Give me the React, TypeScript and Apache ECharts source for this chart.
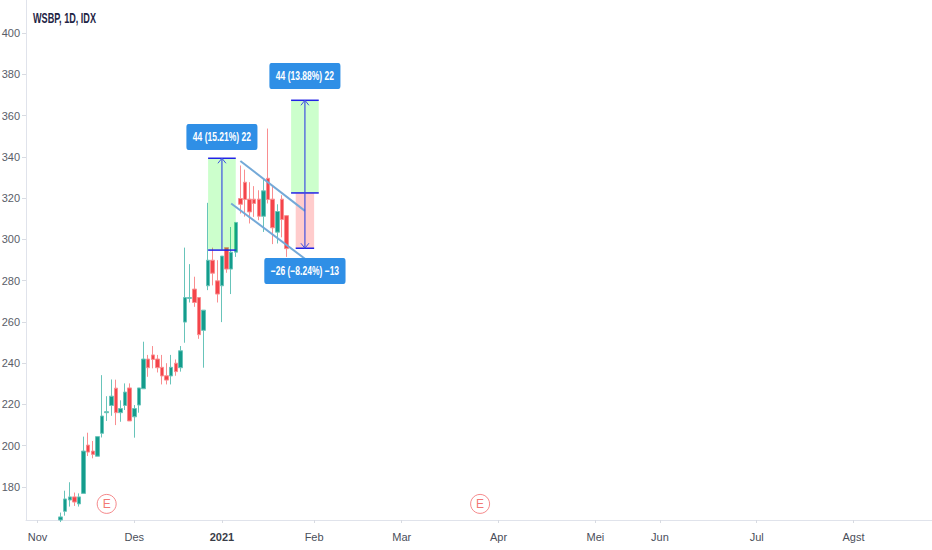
import React, { useEffect, useRef } from "react";
import * as echarts from "echarts";

const FONT = '"Liberation Sans", sans-serif';

// first drawn bar index; all arrays below run on from this bar
const firstBar = 7;
const barCount = 197;
const opens = [164, 168.2, 173.7, 175.2, 171.8, 176.9, 200.3, 197.4, 194.9, 206, 216, 219.5, 227.9, 216, 219.5, 228, 214, 219.7, 227.6, 242, 244, 242, 238, 233.9, 233.8, 240, 237.8, 259.9, 271.4, 275.9, 271.8, 255.9, 277.5, 289.9, 279.9, 277.5, 296, 285.6, 293.8, 319.8, 327.7, 319.5, 319.5, 319.5, 311.2, 329.6, 319.5, 303.5, 319.5, 311.5];
const closes = [165.5, 174.2, 175.2, 172.7, 175.2, 197.4, 196.9, 195.8, 204.4, 214.4, 216.5, 224, 216, 218, 226, 212, 218, 228, 242, 237.8, 241.8, 237.8, 233.8, 231.8, 238, 235.9, 246, 271.8, 271.8, 269.4, 253.8, 265.7, 289.9, 283.6, 273.5, 291.9, 285.6, 293.8, 308.2, 317, 319.3, 313.3, 317.4, 311.2, 323.5, 319.3, 305.6, 313.5, 309.6, 295.5];
const lows = [163, 166.1, 170.5, 170.8, 170.5, 176.9, 195, 193.9, 194.9, 204, 212, 214.5, 210, 211.6, 217.3, 212, 203.9, 216, 227.6, 233.4, 237.5, 235.5, 229.7, 229.7, 229.7, 233.9, 235.9, 249.9, 269.4, 267.3, 251.8, 237.8, 275.4, 277.7, 269.4, 259.9, 283.8, 273.5, 291.5, 312.5, 311, 307.7, 310.9, 309.3, 303.6, 317.4, 297.7, 298, 301, 291.5];
const highs = [167.6, 178.2, 182.3, 177.3, 176.9, 204.4, 206.3, 202.3, 204.4, 234.2, 224, 232.1, 232, 222, 230.2, 230.2, 219.7, 228, 250.4, 244, 248.3, 244, 244, 240, 244, 241.8, 248.3, 296, 288, 281.9, 271.8, 265.7, 317.7, 296, 289.9, 291.9, 296, 306, 308.2, 335.8, 333.8, 327.7, 325.8, 323.8, 329.5, 353.7, 325.8, 317, 321.4, 311.7];

const monthBars = [2, 23, 42, 62, 81, 102, 123, 137, 158, 179];
const monthLabels = ["Nov", "Des", "2021", "Feb", "Mar", "Apr", "Mei", "Jun", "Jul", "Agst"];
const priceTicks = [180, 200, 220, 240, 260, 280, 300, 320, 340, 360, 380, 400];

// [from bar, to bar, low price, high price, kind]
const rangeBoxes: [number, number, number, number, string][] = [
  [39, 45, 294.8, 339.3, "up"],
  [57, 63, 322.5, 367.4, "up"],
  [58, 62, 295.7, 322.5, "down"],
];
// [bar, from price, to price]
const arrows = [
  [42, 294.8, 339.3],
  [60, 322.5, 367.4],
  [60, 322.5, 295.7],
];
// [from bar, to bar, price]
const rangeEdges = [
  [39, 45, 294.8],
  [39, 45, 339.3],
  [57, 63, 322.5],
  [57, 63, 367.4],
  [58, 62, 295.7],
];
// [bar a, price a, bar b, price b]
const channelLines = [
  [46, 338, 60, 313.8],
  [44, 317.4, 60, 290.6],
];
// [bar, price, text]
const rangeLabels: [number, number, string][] = [
  [42, 349.6, "44 (15.21%) 22"],
  [60, 379.2, "44 (13.88%) 22"],
  [60, 284.7, "\u221226 (\u22128.24%) \u221213"],
];
const earningsBars = [17, 98];
const earningsPrice = 171.8;

const categories = Array.from({ length: barCount }, (_, i) => {
  const m = monthBars.indexOf(i);
  return m >= 0 ? monthLabels[m] : "b" + i;
});
const candleRows = categories.map((_, i) => {
  const k = i - firstBar;
  return k >= 0 && k < opens.length ? [opens[k], closes[k], lows[k], highs[k]] : ["-", "-", "-", "-"];
});
const earningsRows = categories.map((_, i) => (earningsBars.includes(i) ? earningsPrice : "-"));

const BLUE = "#2323e6";
const SHAFT = "#3f51e0";

export default function App() {
  const ref = useRef<HTMLDivElement>(null);
  useEffect(() => {
    const chart = echarts.init(ref.current!, undefined, { renderer: "svg" });
    const isMonth = (i: number) => monthBars.includes(i);
    chart.setOption({
      animation: false,
      backgroundColor: "#ffffff",
      graphic: [
        {
          type: "text",
          x: 33,
          y: 11,
          scaleX: 0.65,
          style: { text: "WSBP, 1D, IDX", font: `bold 14px ${FONT}`, fill: "#1f2545" },
        },
      ],
      grid: { left: 26, top: 0, width: 908.2, height: 520, containLabel: false, outerBoundsMode: "none" },
      xAxis: {
        type: "category",
        data: categories,
        boundaryGap: true,
        axisLine: { lineStyle: { color: "#e0e3eb", width: 1 } },
        axisTick: { show: true, length: 3, alignWithLabel: true, interval: (i: number) => isMonth(i), lineStyle: { color: "#d8dbe2" } },
        axisLabel: {
          interval: (i: number) => isMonth(i),
          margin: 11,
          fontFamily: FONT,
          fontSize: 11,
          color: "#4a4e5a",
          hideOverlap: false,
          formatter: (v: string) => (v === "2021" ? "{y|2021}" : v),
          rich: { y: { fontFamily: FONT, fontSize: 11, fontWeight: "bold", color: "#3a3d48" } },
        },
        splitLine: { show: false },
      },
      yAxis: {
        type: "value",
        min: 164,
        max: 416,
        scale: true,
        axisLine: { show: true, lineStyle: { color: "#e0e3eb", width: 1 } },
        axisTick: { show: true, length: 4, customValues: priceTicks, lineStyle: { color: "#d8dbe2" } },
        axisLabel: { customValues: priceTicks, margin: 6, fontFamily: FONT, fontSize: 11, color: "#5a5d68" },
        splitLine: { show: false },
      },
      series: [
        {
          type: "candlestick",
          data: candleRows,
          barWidth: 4,
          clip: true,
          itemStyle: {
            color: "#149c8c",
            color0: "#f4444a",
            borderColor: "#68c4ba",
            borderColor0: "#f98e90",
            borderWidth: 1,
          },
          z: 2,
        },
        {
          type: "scatter",
          data: earningsRows,
          symbol: "circle",
          symbolSize: 19,
          silent: true,
          itemStyle: { color: "#ffffff", borderColor: "#f26b6e", borderWidth: 1 },
          label: { show: true, position: "inside", formatter: "E", fontFamily: FONT, fontSize: 12, color: "#ef5350" },
          z: 3,
        },
        {
          type: "custom",
          data: rangeBoxes.map((b) => [b[0], b[2]]),
          z: 4,
          renderItem: (p: any, api: any) => {
            const b = rangeBoxes[p.dataIndex];
            const a = api.coord([b[0], b[3]]);
            const c = api.coord([b[1], b[2]]);
            return {
              type: "rect",
              shape: { x: a[0], y: a[1], width: c[0] - a[0], height: c[1] - a[1] },
              style: { fill: b[4] === "up" ? "rgba(0,255,0,0.2)" : "rgba(255,0,0,0.2)" },
            };
          },
        },
        {
          type: "custom",
          data: channelLines.map((l) => [l[0], l[1]]),
          z: 5,
          renderItem: (p: any, api: any) => {
            const l = channelLines[p.dataIndex];
            const a = api.coord([l[0], l[1]]);
            const b = api.coord([l[2], l[3]]);
            return {
              type: "line",
              shape: { x1: a[0], y1: a[1], x2: b[0], y2: b[1] },
              style: { stroke: "#74a9d8", lineWidth: 2 },
            };
          },
        },
        {
          type: "custom",
          data: rangeEdges.map((e) => [e[0], e[2]]),
          z: 6,
          renderItem: (p: any, api: any) => {
            const e = rangeEdges[p.dataIndex];
            const a = api.coord([e[0], e[2]]);
            const b = api.coord([e[1], e[2]]);
            return {
              type: "line",
              shape: { x1: a[0], y1: a[1], x2: b[0], y2: b[1] },
              style: { stroke: BLUE, lineWidth: 1.5 },
            };
          },
        },
        {
          type: "custom",
          data: arrows.map((r) => [r[0], r[1]]),
          z: 6,
          renderItem: (p: any, api: any) => {
            const r = arrows[p.dataIndex];
            const a = api.coord([r[0], r[1]]);
            const b = api.coord([r[0], r[2]]);
            const dir = b[1] < a[1] ? 1 : -1;
            return {
              type: "group",
              children: [
                { type: "line", shape: { x1: a[0], y1: a[1], x2: b[0], y2: b[1] }, style: { stroke: SHAFT, lineWidth: 1.2 } },
                {
                  type: "polyline",
                  shape: { points: [[b[0] - 4, b[1] + dir * 5], [b[0], b[1]], [b[0] + 4, b[1] + dir * 5]] },
                  style: { stroke: SHAFT, lineWidth: 1, fill: "none" },
                },
              ],
            };
          },
        },
        {
          type: "custom",
          data: rangeLabels.map((l) => [l[0], l[1]]),
          z: 7,
          renderItem: (p: any, api: any) => {
            const l = rangeLabels[p.dataIndex];
            const a = api.coord([l[0], l[1]]);
            return {
              type: "text",
              x: a[0],
              y: a[1],
              scaleX: 0.71,
              style: {
                text: l[2],
                align: "center",
                verticalAlign: "middle",
                fill: "#ffffff",
                font: `bold 12px ${FONT}`,
                backgroundColor: "#2f8fe6",
                padding: [7, 9],
                borderRadius: 3,
              },
            };
          },
        },
      ],
    });
    return () => chart.dispose();
  }, []);
  return <div ref={ref} style={{ position: "fixed", left: 0, top: 0, width: 932, height: 550, overflow: "hidden" }} />;
}
